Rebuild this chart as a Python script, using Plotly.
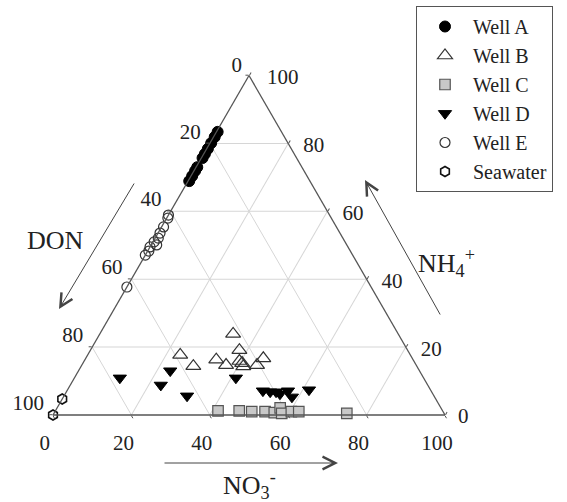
import math
import plotly.graph_objects as go

# ---- data (percent) ----
tick_vals = [0, 20, 40, 60, 80, 100]

wellA_nh4 = [83.4, 81.9, 80.1, 78.4, 76.9, 75.7, 73.0, 71.9, 70.4, 68.9]
wellA_no3 = [0.3, 0.3, 0.3, 0.3, 0.3, 0.3, 0.3, 0.3, 0.3, 0.3]

wellB_nh4 = [23.9, 17.7, 19.1, 14.4, 16.3, 14.7, 15.9, 15.3, 14.3, 14.7, 16.7]
wellB_no3 = [34.0, 23.6, 38.0, 28.6, 33.5, 36.8, 39.6, 40.6, 41.4, 44.7, 45.3]

wellC_nh4 = [1.2, 1.2, 1.0, 1.0, 0.7, 2.1, 0.5, 1.0, 1.0, 0.5]
wellC_no3 = [41.5, 46.9, 50.2, 53.6, 56.1, 56.9, 58.1, 60.3, 62.2, 74.7]

wellD_nh4 = [10.9, 13.0, 8.8, 5.6, 10.9, 7.1, 6.8, 6.8, 6.2, 7.1, 5.3, 7.4]
wellD_no3 = [11.6, 23.4, 23.1, 31.4, 41.2, 50.0, 52.0, 53.5, 54.8, 56.4, 58.3, 61.6]

wellE_nh4 = [58.9, 58.0, 55.4, 53.6, 52.1, 51.0, 50.1, 49.5, 48.3, 47.1, 37.7]
wellE_no3 = [0.0, 0.3, 0.5, 0.5, 0.8, 0.3, 1.4, 0.0, 0.3, 0.0, 0.0]

sea_nh4 = [0.0, 4.7]
sea_no3 = [0.0, 0.0]

FONT = "Liberation Serif, Times New Roman, serif"
TXT = "#222"
TICK_FS = 21


def don(nh4, no3):
    return [100 - a - c for a, c in zip(nh4, no3)]


# ---- geometry of the ternary subplot (page pixels) ----
W, H = 567, 502
xL, xR = 53, 445
tri_w = xR - xL
tri_h = tri_w * math.sqrt(3) / 2
y_bottom = 415
ycen = y_bottom - tri_h / 2
SX = tri_w / 200.0   # px per unit of (c - b)
SY = tri_h / 100.0   # px per unit of a


def shifted(a, b, c, dx_px, dy_px):
    """Shift a ternary point by a pixel offset (keeps a+b+c = 100)."""
    da = -dy_px / SY
    dd = dx_px / SX
    db = (-da - dd) / 2
    dc = (-da + dd) / 2
    return a + da, b + db, c + dc


def anchor_offset(tx, ty, pos, r, fs=TICK_FS):
    """Pixel offset of the (invisible) anchor point so that plotly's text
    placement puts the label's reference edge at (tx, ty) from the tick."""
    if "left" in pos:
        px = tx + r
    elif "right" in pos:
        px = tx - r
    else:
        px = tx
    if "top" in pos:
        cy = -0.59 * fs - r
    elif "bottom" in pos:
        cy = 0.41 * fs + r
    else:
        cy = -0.09 * fs
    return px, ty - cy


series = [
    ("Well A", wellA_nh4, wellA_no3, dict(symbol="circle", size=11, color="black",
                                          line=dict(color="black", width=1))),
    ("Well B", wellB_nh4, wellB_no3, dict(symbol="triangle-up-open", size=13, color="#333",
                                          line=dict(color="#333", width=1.2))),
    ("Well C", wellC_nh4, wellC_no3, dict(symbol="square", size=10.5, color="#c8c8c8",
                                          line=dict(color="#555", width=1.2))),
    ("Well D", wellD_nh4, wellD_no3, dict(symbol="triangle-down", size=11.5, color="black",
                                          line=dict(color="black", width=1))),
    ("Well E", wellE_nh4, wellE_no3, dict(symbol="circle-open", size=10, color="#333",
                                          line=dict(color="#333", width=1.2))),
    ("Seawater", sea_nh4, sea_no3, dict(symbol="hexagon-open", size=10, color="#111",
                                        line=dict(color="#111", width=1.6))),
]

fig = go.Figure()
for name, nh4, no3, mk in series:
    fig.add_trace(go.Scatterternary(
        a=nh4, b=don(nh4, no3), c=no3,
        mode="markers", name=name, marker=mk, cliponaxis=False,
    ))

# ---- tick labels: DON on the left edge, NO3- on the bottom, NH4+ on the right ----
def label_spec(edge, v):
    # returns (tx, ty, textposition, r)
    if edge == "left":
        return (-7, -10.5, "top left", 9) if v == 0 else (-9, -12, "middle left", 17)
    if edge == "bottom":
        return (-3, 28, "bottom left", 22) if v == 0 else (-8, 28, "bottom center", 21)
    # right
    if v == 100:
        return (18, 1, "top right", 10)
    if v == 0:
        return (13, 1, "bottom right", 45)
    return (15, 1.5, "middle right", 16)


edge_point = {
    "left": lambda v: (100 - v, v, 0),
    "bottom": lambda v: (0, 100 - v, v),
    "right": lambda v: (v, 0, 100 - v),
}

LA, LB, LC, LT, LP, LS = [], [], [], [], [], []
for edge in ("left", "bottom", "right"):
    for v in tick_vals:
        tx, ty, pos, r = label_spec(edge, v)
        ox, oy = anchor_offset(tx, ty, pos, r)
        a, b, c = shifted(*edge_point[edge](v), ox, oy)
        LA.append(a); LB.append(b); LC.append(c)
        LT.append(str(v)); LP.append(pos); LS.append((r - 1) * 1.6)

fig.add_trace(go.Scatterternary(
    a=LA, b=LB, c=LC, mode="markers+text", text=LT, textposition=LP,
    textfont=dict(family=FONT, size=TICK_FS, color=TXT),
    marker=dict(size=LS, color="rgba(0,0,0,0)", line=dict(width=0)),
    cliponaxis=False, showlegend=False, hoverinfo="skip",
))

axis_common = dict(
    tickmode="array", tickvals=tick_vals, showticklabels=False,
    linecolor="#555", linewidth=1.3,
    gridcolor="#d6d6d6", gridwidth=1,
    ticks="outside", ticklen=3, tickcolor="#555",
    showgrid=True, showline=True, min=0,
    title=dict(text=""),
)

fig.update_layout(
    width=W, height=H,
    margin=dict(l=0, r=0, t=0, b=0),
    paper_bgcolor="white",
    font=dict(family=FONT, color=TXT),
    ternary=dict(
        sum=100,
        bgcolor="white",
        domain=dict(x=[xL / W, xR / W],
                    y=[1 - ycen / H - 0.36, 1 - ycen / H + 0.36]),
        aaxis=axis_common,
        baxis=axis_common,
        caxis=axis_common,
    ),
    showlegend=True,
    legend=dict(
        x=416 / W, y=1 - 6 / H, xanchor="left", yanchor="top",
        bordercolor="#555", borderwidth=1, bgcolor="white",
        font=dict(family=FONT, size=20, color=TXT),
        itemwidth=46,
    ),
)

ann_font = dict(family=FONT, color=TXT, size=26)
title_style = dict(xref="paper", yref="paper", showarrow=False,
                   xanchor="center", yanchor="middle", font=ann_font)
fig.add_annotation(x=55 / W, y=1 - 240 / H, text="DON", **title_style)
fig.add_annotation(x=446 / W, y=1 - 263 / H, text="NH<sub>4</sub><sup>+</sup>", **title_style)
fig.add_annotation(x=249 / W, y=1 - 485 / H, text="NO<sub>3</sub><sup>-</sup>", **title_style)

# direction arrows
arrow_style = dict(xref="paper", yref="paper", text="", showarrow=True,
                   arrowhead=5, arrowsize=2.5, arrowwidth=1, arrowcolor="#444")
fig.add_annotation(x=59 / W, y=1 - 309 / H, ax=76, ay=-127, **arrow_style)
fig.add_annotation(x=365 / W, y=1 - 180 / H, ax=76, ay=136, **arrow_style)
fig.add_annotation(x=338 / W, y=1 - 463 / H, ax=-175, ay=0, **arrow_style)

fig.write_html("out.html")
